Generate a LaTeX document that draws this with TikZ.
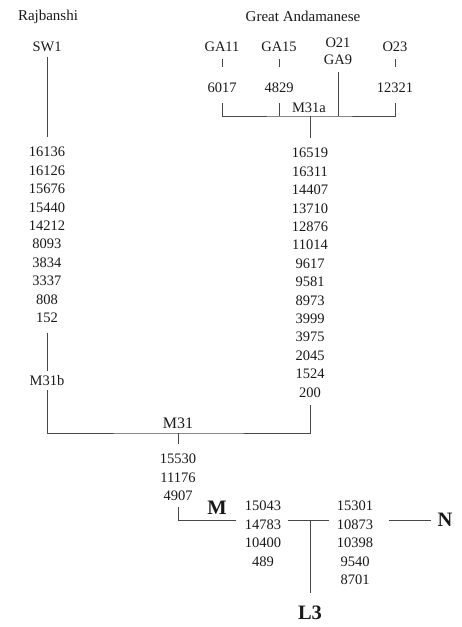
\documentclass[tikz,border=0pt]{standalone}
\usepackage{fontspec}
\setmainfont{Liberation Serif}
\begin{document}
\begin{tikzpicture}[x=1pt,y=-1pt,
  txt/.style={inner sep=0pt, font=\fontsize{14.5}{18.4}\selectfont, align=center, text=black!90},
  lbl/.style={inner sep=0pt, font=\fontsize{15}{17}\selectfont, align=center, text=black!90},
  big/.style={inner sep=0pt, font=\fontsize{20.5}{22}\selectfont\bfseries, text=black!90},
  ln/.style={draw=black!72, line width=1pt}]
\useasboundingbox (0,0) rectangle (462,627);

% headings
\node[lbl, anchor=base] (raj) at (48,20) {Rajbanshi};
\node[lbl, anchor=base] (ga) at (303,21) {Great Andamanese};

% left branch
\node[txt] (SW1) at (47,47) {SW1};
\node[txt, anchor=north] (colL) at (47,147.1) {16136\\16126\\15676\\15440\\14212\\8093\\3834\\3337\\808\\152};
\node[txt] (M31b) at (47,381) {M31b};

% Great Andamanese leaves
\node[txt] (GA11) at (222,47) {GA11};
\node[txt] (GA15) at (279,47) {GA15};
\node[txt, anchor=north, font=\fontsize{14.5}{17}\selectfont] (O21) at (338,38.1) {O21\\GA9};
\node[txt] (O23) at (395,47) {O23};
\node[txt] (n6017) at (222,88) {6017};
\node[txt] (n4829) at (279,88) {4829};
\node[txt] (n12321) at (395,88) {12321};
\node[txt] (M31a) at (309,107.5) {M31a};
\coordinate (aj) at (310,116);

\node[txt, anchor=north] (colR) at (310,148.1) {16519\\16311\\14407\\13710\\12876\\11014\\9617\\9581\\8973\\3999\\3975\\2045\\1524\\200};

% M31 node
\node[txt, font=\fontsize{16}{18}\selectfont] (M31) at (178,423) {M31};
\coordinate (m31j) at (178,433);
\node[txt, anchor=north] (colMid) at (178,454.1) {15530\\11176\\4907};

% M, L3, N
\node[big] (M) at (217,508) {M};
\node[txt, anchor=north] (colM) at (263,501.1) {15043\\14783\\10400\\489};
\node[txt, anchor=north] (colR2) at (355,501.1) {15301\\10873\\10398\\9540\\8701};
\coordinate (L3j) at (310,520);
\node[big] (L3) at (310,613) {L3};
\node[big] (N) at (445,520) {N};

% connectors: left branch
\draw[ln, shorten <=5pt, shorten >=10pt] (SW1.south) -- (colL.north);
\draw[ln, shorten <=10pt, shorten >=4.5pt] (colL.south) -- (M31b.north);
\draw[ln, shorten <=4pt, shorten >=8pt] (M31b.south) |- (m31j) -| (colR.south);
\draw[ln, shorten >=10pt] (m31j) -- (colMid.north);

% connectors: Great Andamanese
\draw[ln, shorten <=7pt, shorten >=16pt] (GA11.south) -- (n6017.north);
\draw[ln, shorten <=7pt, shorten >=16pt] (GA15.south) -- (n4829.north);
\draw[ln, shorten <=7pt, shorten >=16pt] (O23.south) -- (n12321.north);
\draw[ln, shorten <=10pt, shorten >=10pt] (n6017.south) |- (aj) -| (n12321.south);
\draw[ln, shorten <=10pt] (n4829.south) -- (n4829.south |- aj);
\draw[ln, shorten <=7pt] (O21.south) -- (O21.south |- aj);
\draw[ln, shorten >=10pt] (aj) -- (colR.north);

% connectors: M / L3 / N
\draw[ln, shorten <=6pt, shorten >=9pt] (colMid.south) |- (colM.west |- L3j);
\draw[ln, shorten <=6.5pt, shorten >=7.5pt] (colM.east |- L3j) -- (colR2.west |- L3j);
\draw[ln, shorten >=13pt] (L3j) -- (L3.north);
\draw[ln, shorten <=15.5pt, shorten >=6pt] (colR2.east |- L3j) -- (N.west);
\end{tikzpicture}
\end{document}
